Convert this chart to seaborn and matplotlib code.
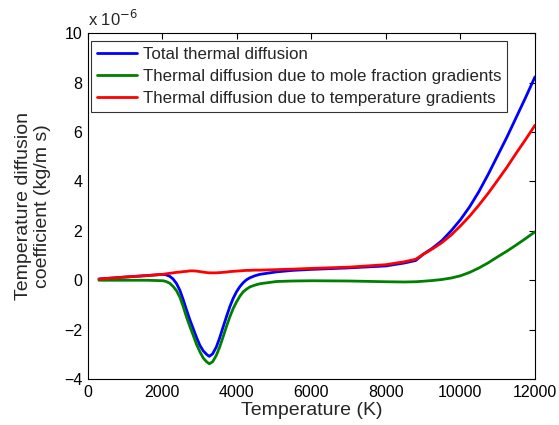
import numpy as np
import pandas as pd
import seaborn as sns
import matplotlib
matplotlib.use("Agg")
import matplotlib.pyplot as plt

# temperature grid (K) and coefficients (units of 1e-6 kg/m s)
temperature = [300, 1000, 1600, 2020, 2100, 2200, 2290, 2380, 2470, 2560, 2650, 2740,
               2830, 2920, 3010, 3100, 3190, 3260, 3350, 3450, 3540, 3630, 3720, 3810,
               3900, 3990, 4080, 4170, 4260, 4350, 4480, 4620, 5070, 5500, 6000, 7000,
               8000, 8500, 8800, 9000, 9250, 9500, 9750, 10000, 10250, 10500, 10750,
               11000, 11250, 11500, 11750, 12000]
total = [0.05, 0.13, 0.19, 0.24, 0.22, 0.16, 0.05, -0.13, -0.4, -0.78, -1.2, -1.6,
         -1.96, -2.32, -2.64, -2.86, -3.0, -3.08, -2.98, -2.7, -2.33, -1.9, -1.48, -1.08,
         -0.74, -0.47, -0.26, -0.1, 0.02, 0.1, 0.18, 0.24, 0.34, 0.4, 0.44, 0.5,
         0.58, 0.7, 0.8, 1.05, 1.3, 1.6, 2.0, 2.45, 2.98, 3.6, 4.3,
         5.05, 5.8, 6.6, 7.4, 8.23]
mole_frac = [0.0, 0.0, 0.0, -0.02, -0.05, -0.12, -0.25, -0.42, -0.68, -1.06, -1.49, -1.87,
             -2.23, -2.6, -2.9, -3.15, -3.3, -3.38, -3.3, -3.04, -2.7, -2.3, -1.88, -1.49,
             -1.15, -0.88, -0.65, -0.47, -0.36, -0.27, -0.2, -0.14, -0.05, -0.03, -0.02, -0.03,
             -0.06, -0.07, -0.06, -0.04, -0.01, 0.03, 0.09, 0.18, 0.32, 0.5, 0.71,
             0.95, 1.18, 1.43, 1.69, 1.96]
temp_grad = [0.05, 0.13, 0.19, 0.24, 0.26, 0.28, 0.3, 0.32, 0.33, 0.35, 0.36, 0.38,
             0.38, 0.37, 0.35, 0.33, 0.31, 0.3, 0.3, 0.3, 0.31, 0.32, 0.33, 0.35,
             0.36, 0.37, 0.38, 0.39, 0.4, 0.4, 0.41, 0.41, 0.43, 0.45, 0.48, 0.53,
             0.63, 0.75, 0.85, 1.05, 1.27, 1.52, 1.83, 2.2, 2.6, 3.05, 3.53,
             4.05, 4.58, 5.15, 5.7, 6.27]

labels = ["Total thermal diffusion",
          "Thermal diffusion due to mole fraction gradients",
          "Thermal diffusion due to temperature gradients"]
colors = ["#0000ff", "#008000", "#ff0000"]

df = pd.DataFrame({"T": temperature, labels[0]: total,
                   labels[1]: mole_frac, labels[2]: temp_grad})
long_df = df.melt(id_vars="T", var_name="series", value_name="D")

sns.set_style("white")
plt.rcParams['font.family'] = ['Liberation Sans', 'DejaVu Sans']

fig = plt.figure(figsize=(5.59, 4.25), dpi=100)
ax = fig.add_axes([0.157, 0.108, 0.800, 0.814])

sns.lineplot(data=long_df, x="T", y="D", hue="series", hue_order=labels,
             palette=colors, linewidth=2, ax=ax, sort=False)

ax.set_xlim(0, 12000)
ax.set_ylim(-4, 10)
ax.set_xticks(np.arange(0, 12001, 2000))
ax.set_yticks(np.arange(-4, 11, 2))
ax.set_yticklabels([str(v).replace("-", "\u2212") for v in range(-4, 11, 2)])
ax.tick_params(direction="in", top=True, right=True, length=4, width=0.8,
               labelsize=11.5, colors="black", pad=4)
for s in ax.spines.values():
    s.set_color("black")
    s.set_linewidth(0.8)

ax.set_xlabel("Temperature (K)", fontsize=14, labelpad=2)
ax.set_ylabel("Temperature diffusion\ncoefficient (kg/m s)", fontsize=14, labelpad=9)
ax.text(0.0, 1.012, "x 10$^{\u22126}$", transform=ax.transAxes, fontsize=12,
        ha="left", va="bottom")

# legend box placed like the matlab one (top-left, just inside the axes)
leg = ax.legend(loc="upper left", bbox_to_anchor=(0.007, 0.978), fontsize=12.2,
                frameon=True, fancybox=False, edgecolor="black", handlelength=2.4,
                handletextpad=0.3, borderaxespad=0, labelspacing=0.42, borderpad=0.35)
leg.get_frame().set_linewidth(0.8)
leg.set_title(None)

fig.savefig("out.png", dpi=100)
